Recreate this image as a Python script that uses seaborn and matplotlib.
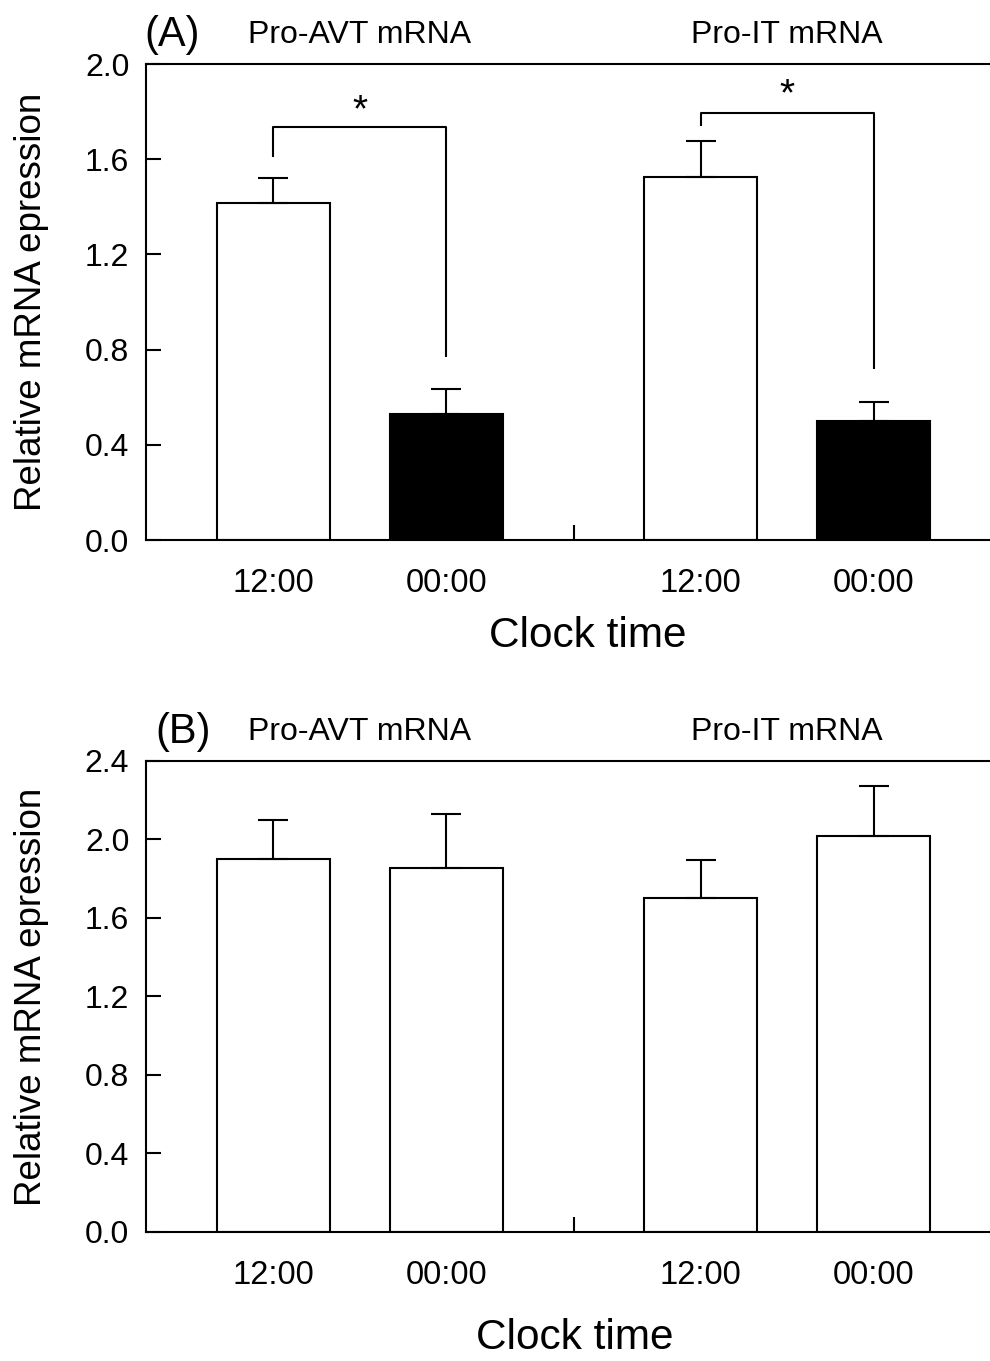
import seaborn as sns
import numpy as np
import matplotlib.pyplot as plt
import matplotlib.transforms as mtransforms
import pandas as pd

## values (means and top of the error bar)
genes = ["Pro-AVT mRNA", "Pro-AVT mRNA", "Pro-IT mRNA", "Pro-IT mRNA"]
times = ["12:00", "00:00", "12:00", "00:00"]
gene_order = ["Pro-AVT mRNA", "Pro-IT mRNA"]
time_order = ["12:00", "00:00"]

a_mean = [1.415, 0.53, 1.525, 0.50]
a_upper = [1.52, 0.635, 1.675, 0.58]
b_mean = [1.90, 1.855, 1.70, 2.02]
b_upper = [2.10, 2.13, 1.895, 2.27]

a_yticks = [0.0, 0.4, 0.8, 1.2, 1.6, 2.0]
b_yticks = [0.0, 0.4, 0.8, 1.2, 1.6, 2.0, 2.4]

# significance brackets in panel A: (gene, y of left end, y of top line, y of right end, y of star)
brackets = [("Pro-AVT mRNA", 1.61, 1.735, 0.77, 1.80),
            ("Pro-IT mRNA", 1.74, 1.795, 0.72, 1.87)]

sns.set_theme(style="ticks")
plt.rcParams['font.family'] = ['Liberation Sans', 'DejaVu Sans']
plt.rcParams['axes.linewidth'] = 1.5
for key in ['text.color', 'axes.labelcolor', 'xtick.color', 'ytick.color', 'axes.edgecolor']:
    plt.rcParams[key] = 'black'

fig = plt.figure(figsize=(9.9, 13.61), dpi=100)
ax_a = fig.add_axes([0.1475, 0.6032, 0.8636, 0.3497])
ax_b = fig.add_axes([0.1475, 0.0948, 0.8636, 0.3461])


def draw_panel(ax, mean, upper, palette, yticks, ymax, letter, letter_x):
    df = pd.DataFrame({"gene": genes, "time": times, "value": mean, "upper": upper})
    sns.barplot(data=df, x="gene", y="value", hue="time", order=gene_order,
                hue_order=time_order, palette=palette, width=0.81, gap=0.348,
                edgecolor="black", linewidth=1.5, saturation=1, errorbar=None,
                legend=False, ax=ax)

    # upper error bars, placed on the bars seaborn drew
    centers = {}
    for ci, t in enumerate(time_order):
        for gi, bar in enumerate(ax.containers[ci]):
            g = gene_order[gi]
            cx = bar.get_x() + bar.get_width() / 2
            centers[(g, t)] = cx
            row = df[(df["gene"] == g) & (df["time"] == t)].iloc[0]
            ax.errorbar([cx], [row["value"]], yerr=[[0], [row["upper"] - row["value"]]],
                        fmt="none", ecolor="black", elinewidth=1.5, capsize=10.5,
                        capthick=1.5, zorder=1)

    ax.set_xlim(-0.5, 1.5)
    ax.set_ylim(0, ymax)
    ax.set_yticks(yticks)
    ax.set_yticklabels([f"{v:.1f}" for v in yticks])
    ticks_x = [centers[(g, t)] for g in gene_order for t in time_order]
    ax.set_xticks(ticks_x)
    ax.set_xticklabels([t for g in gene_order for t in time_order])
    ax.set_xticks([0.5], minor=True)
    ax.tick_params(axis="x", which="major", length=0, pad=20, labelsize=23.5)
    ax.tick_params(axis="x", which="minor", direction="in", length=11, width=1.5)
    ax.tick_params(axis="y", direction="in", length=11, width=1.5, pad=12, labelsize=23)
    ax.spines["right"].set_visible(False)

    ax.set_ylabel("Relative mRNA epression", fontsize=26.5)
    ax.yaxis.label.set_va("center")
    ax.yaxis.set_label_coords(-0.134, 0.5)

    ax.set_xlabel("Clock time", fontsize=30.5)
    ax.xaxis.label.set_va("center")

    trans = mtransforms.blended_transform_factory(ax.transData, ax.transAxes)
    for gi, g in enumerate(gene_order):
        ax.text(gi, 1.062, g, transform=trans, ha="center", va="center", fontsize=23)
    ax.text(letter_x, 1.062, letter, transform=ax.transAxes, ha="center", va="center",
            fontsize=30)
    return centers


centers_a = draw_panel(ax_a, a_mean, a_upper, {"12:00": "white", "00:00": "black"},
                       a_yticks, 2.0, "(A)", 0.03)
ax_a.xaxis.set_label_coords(0.517, -0.2017)

for g, y_left, y_top, y_right, y_star in brackets:
    x0 = centers_a[(g, "12:00")]
    x1 = centers_a[(g, "00:00")]
    ax_a.plot([x0, x0, x1, x1], [y_left, y_top, y_top, y_right], color="black",
              lw=1.5, solid_capstyle="butt")
    ax_a.text((x0 + x1) / 2, y_star, "*", ha="center", va="center", fontsize=28)

draw_panel(ax_b, b_mean, b_upper, {"12:00": "white", "00:00": "white"},
           b_yticks, 2.4, "(B)", 0.043)
ax_b.xaxis.set_label_coords(0.502, -0.225)

fig.savefig("out.png", dpi=100)
